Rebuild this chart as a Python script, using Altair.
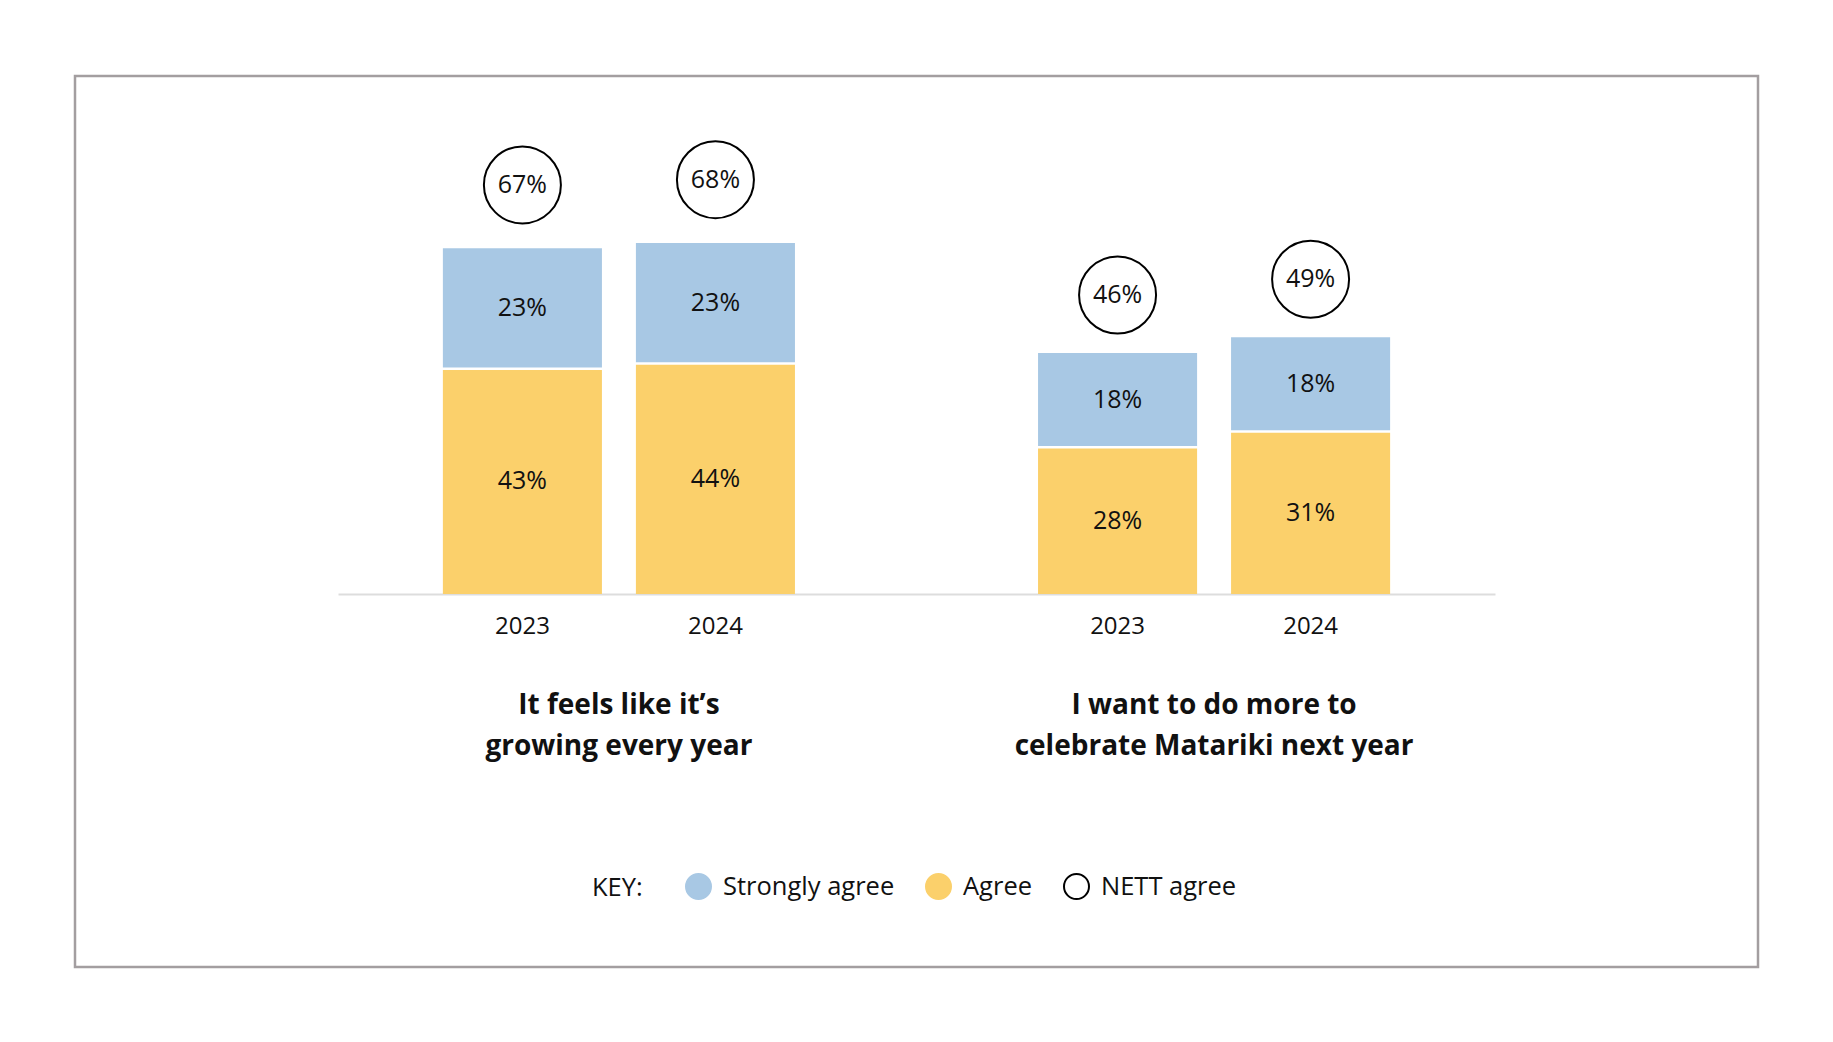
import altair as alt
import pandas as pd

# Two survey statements, each with a stacked bar per year
statements = ["It feels like it’s\ngrowing every year",
              "I want to do more to\ncelebrate Matariki next year"]
years = ["2023", "2024"]

# Percentages per statement (rows) and year (columns)
strongly_agree = [[23, 23], [18, 18]]
agree = [[43, 44], [28, 31]]
nett_agree = [[67, 68], [46, 49]]

series = ["Strongly agree", "Agree", "NETT agree"]
fill_colors = ["#a8c8e4", "#fbd06b", "white"]
stroke_colors = ["#a8c8e4", "#fbd06b", "black"]

FONT = "Open Sans"
INK = "#111111"

# Long-form tables built from the arrays above
seg_rows, nett_rows, year_rows = [], [], []
for i, st in enumerate(statements):
    for j, yr in enumerate(years):
        a = agree[i][j]
        s = strongly_agree[i][j]
        seg_rows.append(dict(statement=st, year=yr, series="Agree",
                             y0=0, y1=a, mid=a / 2, label=f"{a}%"))
        seg_rows.append(dict(statement=st, year=yr, series="Strongly agree",
                             y0=a, y1=a + s, mid=a + s / 2, label=f"{s}%"))
        n = nett_agree[i][j]
        nett_rows.append(dict(statement=st, year=yr, series="NETT agree",
                              nett=n, label=f"{n}%"))
        year_rows.append(dict(statement=st, year=yr))

seg_df = pd.DataFrame(seg_rows)
nett_df = pd.DataFrame(nett_rows)
year_df = pd.DataFrame(year_rows)
title_df = pd.DataFrame({"statement": statements})

x_scale = alt.Scale(range=[263, 1420], paddingInner=0.256, paddingOuter=0.1)
xo_scale = alt.Scale(paddingInner=0.176, paddingOuter=0.235)
y_scale = alt.Scale(domain=[0, 100], range=[518, -6], nice=False, zero=True)

x_axis = alt.Axis(labels=False, ticks=False, title=None, grid=False,
                  domainColor="#dddddd", domainWidth=2, offset=-373)

x_enc = alt.X("statement:N", sort=statements, scale=x_scale, axis=x_axis)
xo_enc = alt.XOffset("year:N", sort=years, scale=xo_scale)

key_legend = alt.Legend(
    orient="none", legendX=517, legendY=797, direction="horizontal",
    title="KEY:", titleOrient="left", titleFont=FONT, titleFontSize=25.5,
    titleFontWeight=500, titleColor=INK, titlePadding=42,
    labelFont=FONT, labelFontSize=25.5, labelFontWeight=500, labelColor=INK,
    labelLimit=400, labelOffset=11, symbolType="circle", symbolSize=625,
    symbolStrokeWidth=2, symbolOpacity=1, columnPadding=27,
)

fill_scale = alt.Scale(domain=series, range=fill_colors)
stroke_scale = alt.Scale(domain=series, range=stroke_colors)

bars = alt.Chart(seg_df).mark_bar().encode(
    x=x_enc, xOffset=xo_enc,
    y=alt.Y("y0:Q", scale=y_scale, axis=None), y2="y1:Q",
    fill=alt.Fill("series:N", scale=fill_scale, legend=key_legend),
)

# thin white line separating the two segments of each bar
gaps = alt.Chart(seg_df).transform_filter(
    alt.datum.series == "Agree"
).mark_tick(orient="horizontal", color="white", thickness=2.6, size=165,
            opacity=1).encode(
    x=x_enc, xOffset=xo_enc, y=alt.Y("y1:Q", scale=y_scale, axis=None),
)

seg_text = alt.Chart(seg_df).mark_text(
    font=FONT, fontSize=25, color=INK, baseline="middle"
).encode(
    x=x_enc, xOffset=xo_enc, y=alt.Y("mid:Q", scale=y_scale, axis=None),
    text="label:N",
)

circles = alt.Chart(nett_df).mark_point(
    shape="circle", filled=False, size=5929, strokeWidth=2, opacity=1,
    yOffset=-58,
).encode(
    x=x_enc, xOffset=xo_enc, y=alt.Y("nett:Q", scale=y_scale, axis=None),
    stroke=alt.Stroke("series:N", scale=stroke_scale, legend=key_legend),
)

circle_text = alt.Chart(nett_df).mark_text(
    font=FONT, fontSize=25, color=INK, baseline="middle", yOffset=-58
).encode(
    x=x_enc, xOffset=xo_enc, y=alt.Y("nett:Q", scale=y_scale, axis=None),
    text="label:N",
)

year_text = alt.Chart(year_df).mark_text(
    font=FONT, fontSize=24, color=INK, baseline="middle", dy=33
).encode(
    x=x_enc, xOffset=xo_enc, y=alt.datum(0), text="year:N",
)

title_text = alt.Chart(title_df).mark_text(
    font=FONT, fontSize=28, fontWeight="bold", color=INK, baseline="middle",
    lineBreak="\n", lineHeight=41, dy=111.5
).encode(
    x=x_enc, y=alt.datum(0), text="statement:N",
)

chart = alt.layer(
    bars, gaps, seg_text, circles, circle_text, year_text, title_text
).properties(
    width=1683, height=891,
    padding={"left": 75, "top": 76, "right": 75, "bottom": 75},
    autosize=alt.AutoSizeParams(type="none"),
).configure_view(
    stroke="#a39ea0", strokeWidth=2.5
)

chart.save("out.html", embed_options={"renderer": "svg", "actions": False})
